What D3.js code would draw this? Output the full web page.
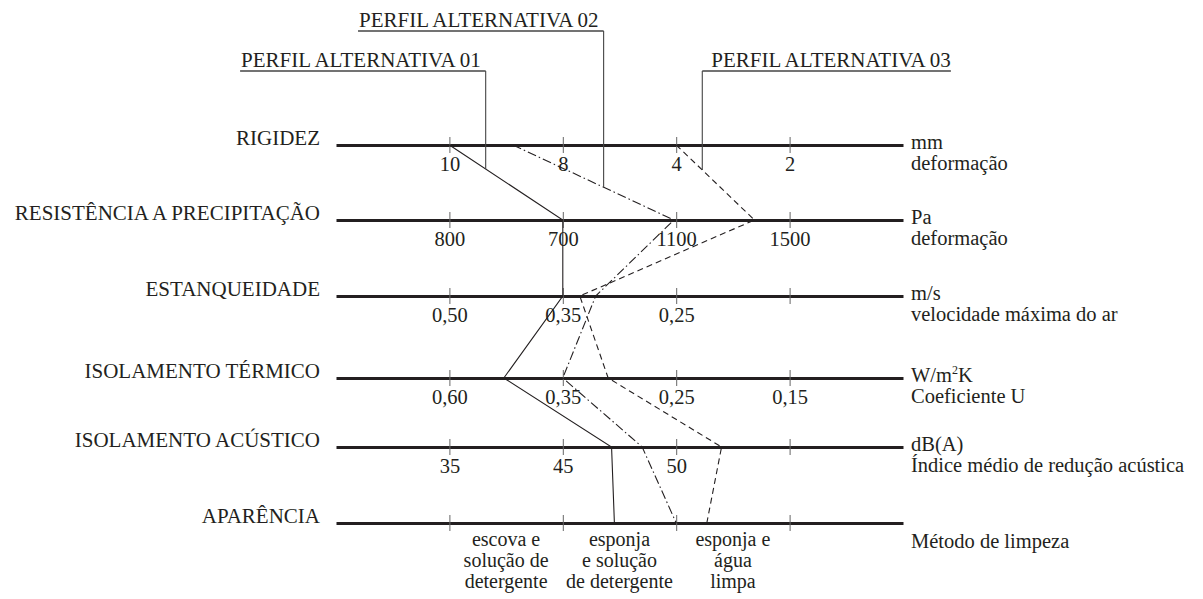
<!DOCTYPE html>
<html>
<head>
<meta charset="utf-8">
<script src="https://cdn.jsdelivr.net/npm/d3@7"></script>
<style>
  body { margin: 0; background: #fff; }
  svg { display: block; font-family: "Liberation Serif", "Times New Roman", serif; }
</style>
</head>
<body>
<div id="chart"></div>
<script>
// Perfis de desempenho - fachada
const rows = ["RIGIDEZ", "RESISTÊNCIA A PRECIPITAÇÃO", "ESTANQUEIDADE", "ISOLAMENTO TÉRMICO", "ISOLAMENTO ACÚSTICO", "APARÊNCIA"];

const tickLabels = [
  ["10", "8", "4", "2"],
  ["800", "700", "1100", "1500"],
  ["0,50", "0,35", "0,25", ""],
  ["0,60", "0,35", "0,25", "0,15"],
  ["35", "45", "50", ""],
  ["", "", "", ""]
];

const unitLabels = [
  ["mm", "deformação"],
  ["Pa", "deformação"],
  ["m/s", "velocidade máxima do ar"],
  ["W/m²K", "Coeficiente U"],
  ["dB(A)", "Índice médio de redução acústica"],
  ["", "Método de limpeza"]
];

const cleaningMethods = [
  ["escova e", "solução de", "detergente"],
  ["esponja", "e solução", "de detergente"],
  ["esponja e", "água", "limpa"]
];

const profileNames = ["PERFIL ALTERNATIVA 01", "PERFIL ALTERNATIVA 02", "PERFIL ALTERNATIVA 03"];

// where each profile crosses every axis, in tick units (1 = first tick)
const profile01 = [1.0, 2.0, 2.0, 1.48, 2.43, 2.455];
const profile02 = [1.56, 2.98, 2.29, 2.0, 2.70, 3.0];
const profile03 = [3.0, 3.69, 2.15, 2.40, 3.40, 3.27];

// callout leaders hit the profiles between the first two axes
const leaderAt = [1.32, 2.36, 3.23];

(function() {
  const width = 1203, height = 599;
  const ink = '#231f20';
  const rowY = [145, 220, 296, 378, 447, 523];
  const labelY = [71, 31, 71];
  const dashes = [null, '9,3,1.5,3', '6,4'];

  const svg = d3.select('#chart').append('svg')
    .attr('width', width)
    .attr('height', height);

  const x = d3.scaleLinear().domain([0, 5]).range([336, 903]);
  const y = d3.scaleOrdinal().domain(rows).range(rowY);

  rows.forEach((row, r) => {
    const axis = d3.axisBottom(x)
      .tickValues([1, 2, 3, 4])
      .tickFormat(k => tickLabels[r][k - 1])
      .tickSizeInner(8)
      .tickSizeOuter(0)
      .tickPadding(3);

    const g = svg.append('g')
      .attr('transform', `translate(0,${y(row)})`)
      .call(axis);

    g.select('.domain').attr('stroke', ink).attr('stroke-width', 3.2);
    g.selectAll('.tick line').attr('y1', -8).attr('y2', 8).attr('stroke', '#666').attr('stroke-width', 1);
    g.selectAll('.tick text')
      .attr('fill', ink)
      .style('font-family', '"Liberation Serif", serif')
      .style('font-size', '20.5px');

    svg.append('text')
      .attr('x', x(0) - 16)
      .attr('y', y(row))
      .attr('text-anchor', 'end')
      .attr('fill', ink)
      .style('font-size', '21px')
      .text(row);

    const u = unitLabels[r];
    if (u[0]) {
      const t = svg.append('text')
        .attr('x', x(5) + 8)
        .attr('y', y(row) + 4)
        .attr('fill', ink)
        .style('font-size', '20.5px');
      if (u[0].includes('²')) {
        t.append('tspan').text('W/m');
        t.append('tspan').attr('dy', -8).style('font-size', '12px').text('2');
        t.append('tspan').attr('dy', 8).text('K');
      } else {
        t.text(u[0]);
      }
    }
    svg.append('text')
      .attr('x', x(5) + 8)
      .attr('y', y(row) + 25)
      .attr('fill', ink)
      .style('font-size', '20.5px')
      .text(u[1]);
  });

  // cleaning methods under the last axis
  const last = y(rows[rows.length - 1]);
  cleaningMethods.forEach((lines, i) => {
    lines.forEach((line, j) => {
      svg.append('text')
        .attr('x', x(i + 1.5))
        .attr('y', last + 23 + j * 21)
        .attr('text-anchor', 'middle')
        .attr('fill', ink)
        .style('font-size', '20px')
        .text(line);
    });
  });

  // profiles
  const profiles = [profile01, profile02, profile03];
  const line = d3.line()
    .x(d => x(d.k))
    .y(d => y(d.row));

  profiles.forEach((p, i) => {
    const pts = p.map((k, r) => ({ k: k, row: rows[r] }));
    svg.append('path')
      .attr('d', line(pts))
      .attr('fill', 'none')
      .attr('stroke', ink)
      .attr('stroke-width', 1.1)
      .attr('stroke-dasharray', dashes[i]);
  });

  // callouts
  profiles.forEach((p, i) => {
    const lx = x(leaderAt[i]);
    const t = (leaderAt[i] - p[0]) / (p[1] - p[0]);
    const yEnd = y(rows[0]) + t * (y(rows[1]) - y(rows[0]));
    const ly = labelY[i];

    const label = svg.append('text')
      .attr('fill', ink)
      .style('font-size', '21px')
      .attr('y', ly - 4)
      .text(profileNames[i]);

    let x0, x1;
    if (i < 2) {
      label.attr('x', lx - 5).attr('text-anchor', 'end');
      const w = label.node().getComputedTextLength();
      x0 = lx - 5 - w - 1;
      x1 = lx;
    } else {
      label.attr('x', lx + 9).attr('text-anchor', 'start');
      const w = label.node().getComputedTextLength();
      x0 = lx;
      x1 = lx + 9 + w;
    }

    svg.append('path')
      .attr('d', `M${x0},${ly}H${x1}`)
      .attr('stroke', '#444')
      .attr('stroke-width', 1.3)
      .attr('fill', 'none');

    svg.append('path')
      .attr('d', `M${lx},${ly}V${yEnd}`)
      .attr('stroke', '#444')
      .attr('stroke-width', 1.1)
      .attr('fill', 'none');
  });
})();
</script>
</body>
</html>
